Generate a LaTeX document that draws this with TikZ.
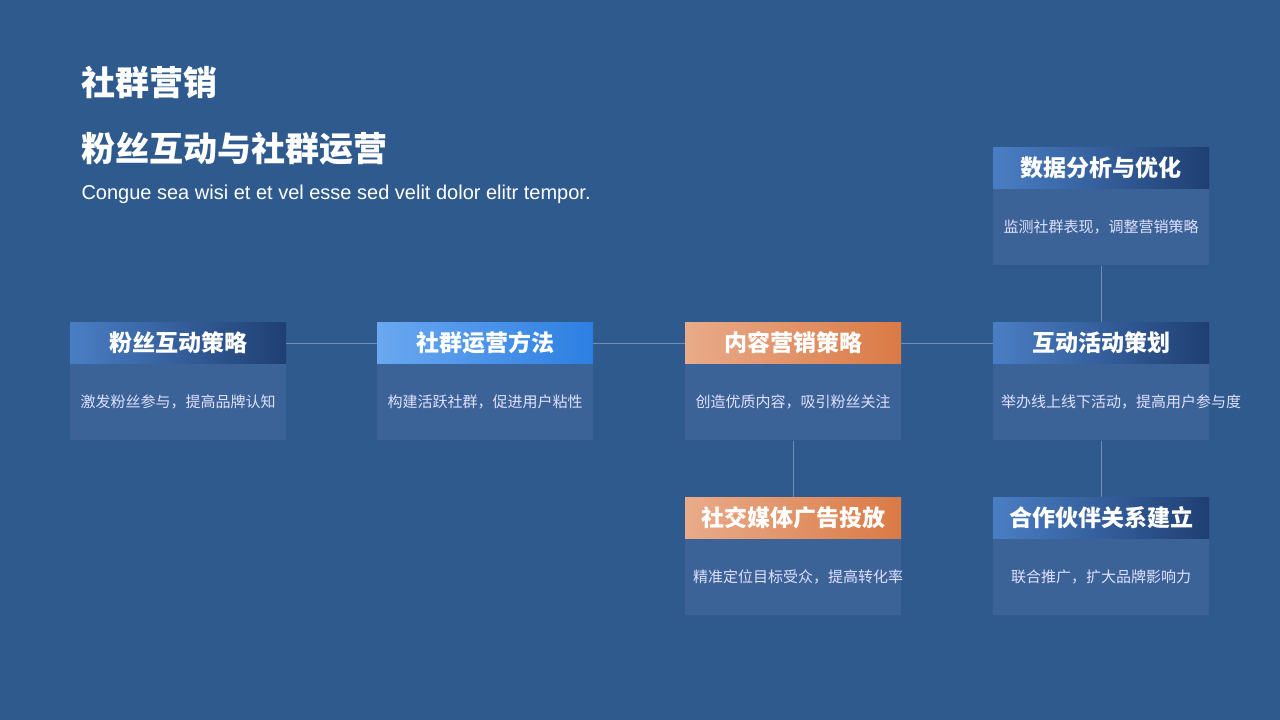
\documentclass[tikz,border=0pt]{standalone}
\usepackage{fontspec}
\setmainfont{Liberation Sans}
\newfontfamily\cjk{Noto Sans CJK SC}
\usetikzlibrary{positioning}
\definecolor{bgblue}{HTML}{2F5A8E}
\definecolor{bodyblue}{HTML}{3C6397}
\definecolor{linegray}{HTML}{6F8FB8}
\definecolor{hdark}{HTML}{1F3F72}
\definecolor{hmid}{HTML}{4A7EC4}
\definecolor{hlight}{HTML}{6AA8F0}
\definecolor{hsky}{HTML}{2C7FE2}
\definecolor{orA}{HTML}{E9AB8A}
\definecolor{orB}{HTML}{DA7A45}
\tikzset{
  head/.style={minimum width=216pt,minimum height=42pt,inner sep=0pt,text=white,
    font=\cjk\fontsize{23}{26}\selectfont\bfseries},
  headdark/.style={head,left color=hmid,right color=hdark},
  headsky/.style={head,left color=hlight,right color=hsky},
  headorange/.style={head,left color=orA,right color=orB},
  body/.style={fill=bodyblue,minimum width=216pt,minimum height=76pt,inner sep=0pt,
    text=white!88!blue,align=center,text width=200pt,font=\cjk\fontsize{15}{23}\selectfont},
  link/.style={linegray,line width=0.6pt}
}
\begin{document}
\begin{tikzpicture}[x=1pt,y=-1pt]
\fill[bgblue] (0,0) rectangle (1280,720);
\useasboundingbox (0,0) rectangle (1280,720);
% titles
\node[anchor=west,text=white,font=\cjk\fontsize{34}{40}\selectfont\bfseries] (title) at (78,82) {社群营销};
\node[anchor=west,text=white,font=\cjk\fontsize{34}{40}\selectfont\bfseries] (subtitle) at (78,149) {粉丝互动与社群运营};
\node[anchor=west,text=white,font=\fontsize{20}{24}\selectfont] (lead) at (78,194) {Congue sea wisi et et vel esse sed velit dolor elitr tempor.};
% cards
\node[headdark] (h1) at (178,343) {粉丝互动策略};
\node[body,below=0pt of h1] (b1) {激发粉丝参与，提高品牌认知};
\node[headsky] (h2) at (485,343) {社群运营方法};
\node[body,below=0pt of h2] (b2) {构建活跃社群，促进用户粘性};
\node[headorange] (h3) at (793,343) {内容营销策略};
\node[body,below=0pt of h3] (b3) {创造优质内容，吸引粉丝关注};
\node[headdark] (h4) at (1101,343) {互动活动策划};
\node[body,below=0pt of h4] (b4) {举办线上线下活动，提高用户参与度};
\node[headdark] (h5) at (1101,168) {数据分析与优化};
\node[body,below=0pt of h5] (b5) {监测社群表现，调整营销策略};
\node[headorange] (h6) at (793,518) {社交媒体广告投放};
\node[body,below=0pt of h6] (b6) {精准定位目标受众，提高转化率};
\node[headdark] (h7) at (1101,518) {合作伙伴关系建立};
\node[body,below=0pt of h7] (b7) {联合推广，扩大品牌影响力};
% links
\draw[link] (h1.east) -- (h2.west);
\draw[link] (h2.east) -- (h3.west);
\draw[link] (h3.east) -- (h4.west);
\draw[link] (b5.south) -- (h4.north);
\draw[link] (b3.south) -- (h6.north);
\draw[link] (b4.south) -- (h7.north);
\end{tikzpicture}
\end{document}
